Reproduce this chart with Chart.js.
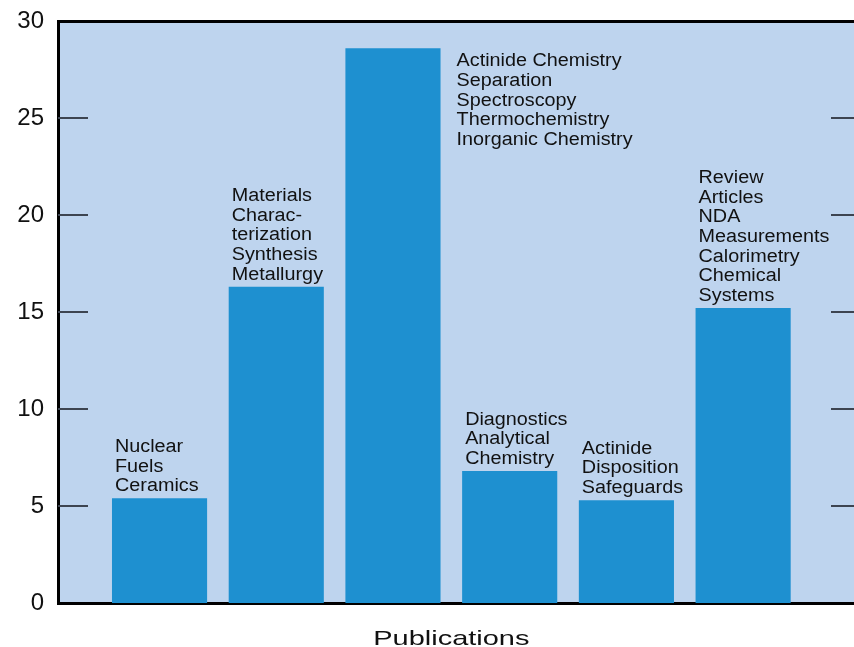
<!DOCTYPE html>
<html>
<head>
<meta charset="utf-8">
<script src="https://cdn.jsdelivr.net/npm/chart.js@4.4.1/dist/chart.umd.min.js"></script>
<style>
  html, body { margin: 0; padding: 0; background: #fff; }
  canvas { display: block; }
</style>
</head>
<body>
<canvas id="pubChart" width="854" height="647"></canvas>
<script>
// chart data
const categories = ['Nuclear Fuels', 'Materials', 'Actinide Chemistry', 'Diagnostics', 'Actinide Disposition', 'Review Articles'];
const publications = [5.4, 16.3, 28.6, 6.8, 5.3, 15.2];
const barLabels = [
    ['Nuclear', 'Fuels', 'Ceramics'],
    ['Materials', 'Charac-', 'terization', 'Synthesis', 'Metallurgy'],
    ['Actinide Chemistry', 'Separation', 'Spectroscopy', 'Thermochemistry', 'Inorganic Chemistry'],
    ['Diagnostics', 'Analytical', 'Chemistry'],
    ['Actinide', 'Disposition', 'Safeguards'],
    ['Review', 'Articles', 'NDA', 'Measurements', 'Calorimetry', 'Chemical', 'Systems']
];
const labelSide = ['above', 'above', 'right', 'above', 'above', 'above'];
const yTicks = [0, 5, 10, 15, 20, 25, 30];
const xTitle = 'Publications';

const FONT = "'Liberation Sans', Arial, Helvetica, sans-serif";
const PLOT_BG = '#BED4EE';
const BAR_COLOR = '#1E90D0';

// light blue plot background
const plotBackground = {
    id: 'plotBackground',
    beforeDraw(chart) {
        const { ctx, chartArea: a } = chart;
        ctx.save();
        ctx.fillStyle = PLOT_BG;
        ctx.fillRect(a.left, a.top, a.right - a.left, a.bottom - a.top);
        ctx.restore();
    }
};

// short tick marks pointing into the plot, on both sides
const innerTicks = {
    id: 'innerTicks',
    afterDatasetsDraw(chart) {
        const { ctx, chartArea: a, scales: { y } } = chart;
        ctx.save();
        ctx.strokeStyle = '#3d4450';
        ctx.lineWidth = 2;
        yTicks.slice(1, -1).forEach(v => {
            const py = Math.round(y.getPixelForValue(v));
            ctx.beginPath();
            ctx.moveTo(a.left, py);
            ctx.lineTo(a.left + 30, py);
            ctx.moveTo(a.right - 23, py);
            ctx.lineTo(a.right, py);
            ctx.stroke();
        });
        ctx.restore();
    }
};

// multi-line labels next to each bar
const barText = {
    id: 'barText',
    afterDatasetsDraw(chart) {
        const { ctx } = chart;
        const bars = chart.getDatasetMeta(0).data;
        const lineH = 19.7;
        ctx.save();
        ctx.fillStyle = '#111';
        ctx.font = `18px ${FONT}`;
        ctx.textBaseline = 'alphabetic';
        ctx.textAlign = 'left';
        bars.forEach((bar, i) => {
            const lines = barLabels[i];
            const half = bar.width / 2;
            let x, y0;
            if (labelSide[i] === 'right') {
                x = bar.x + half + 16;
                y0 = bar.y + 18;
            } else {
                x = bar.x - half + 3;
                y0 = bar.y - 7 - (lines.length - 1) * lineH;
            }
            lines.forEach((line, k) => {
                ctx.save();
                ctx.translate(x, y0 + k * lineH);
                ctx.scale(1.1, 1);
                ctx.fillText(line, 0, 0);
                ctx.restore();
            });
        });
        ctx.restore();
    }
};

// axis title under the plot
const bottomTitle = {
    id: 'bottomTitle',
    afterDraw(chart) {
        const { ctx } = chart;
        const bars = chart.getDatasetMeta(0).data;
        const cx = (bars[0].x + bars[bars.length - 1].x) / 2;
        ctx.save();
        ctx.fillStyle = '#111';
        ctx.font = `21px ${FONT}`;
        ctx.textAlign = 'center';
        ctx.textBaseline = 'alphabetic';
        ctx.translate(cx, 645);
        ctx.scale(1.38, 1);
        ctx.fillText(xTitle, 0, 0);
        ctx.restore();
    }
};

const ctx = document.getElementById('pubChart').getContext('2d');
new Chart(ctx, {
    type: 'bar',
    data: {
        datasets: [{
            label: 'Publications',
            data: publications.map((v, i) => ({ x: i, y: v })),
            backgroundColor: BAR_COLOR,
            borderWidth: 0,
            barPercentage: 1,
            categoryPercentage: 0.815
        }]
    },
    options: {
        responsive: false,
        animation: false,
        layout: { padding: 0 },
        plugins: {
            legend: { display: false },
            tooltip: { enabled: false }
        },
        scales: {
            x: {
                type: 'linear',
                position: 'bottom',
                offset: false,
                min: -0.87,
                max: 5.95,
                // one tick per bar so bar width comes from the bar spacing
                afterBuildTicks: s => { s.ticks = categories.map((c, i) => ({ value: i })); },
                ticks: { display: false },
                grid: { display: false, drawTicks: false, offset: false },
                border: { display: true, color: '#000', width: 3 },
                afterFit: s => { s.height = 44; s.paddingLeft = 0; s.paddingRight = 0; }
            },
            xTop: {
                type: 'linear',
                position: 'top',
                offset: false,
                min: -0.87,
                max: 5.95,
                ticks: { display: false },
                grid: { display: false, drawTicks: false },
                border: { display: true, color: '#000', width: 3 },
                afterFit: s => { s.height = 21; s.paddingLeft = 0; s.paddingRight = 0; }
            },
            y: {
                min: 0,
                max: 30,
                afterBuildTicks: s => { s.ticks = yTicks.map(v => ({ value: v })); },
                ticks: {
                    color: '#111',
                    padding: 14,
                    font: { family: FONT, size: 24 }
                },
                grid: { display: false, drawTicks: false },
                border: { display: true, color: '#000', width: 3 },
                afterFit: s => { s.width = 58; s.paddingTop = 0; s.paddingBottom = 0; }
            }
        }
    },
    plugins: [plotBackground, innerTicks, barText, bottomTitle]
});
</script>
</body>
</html>
